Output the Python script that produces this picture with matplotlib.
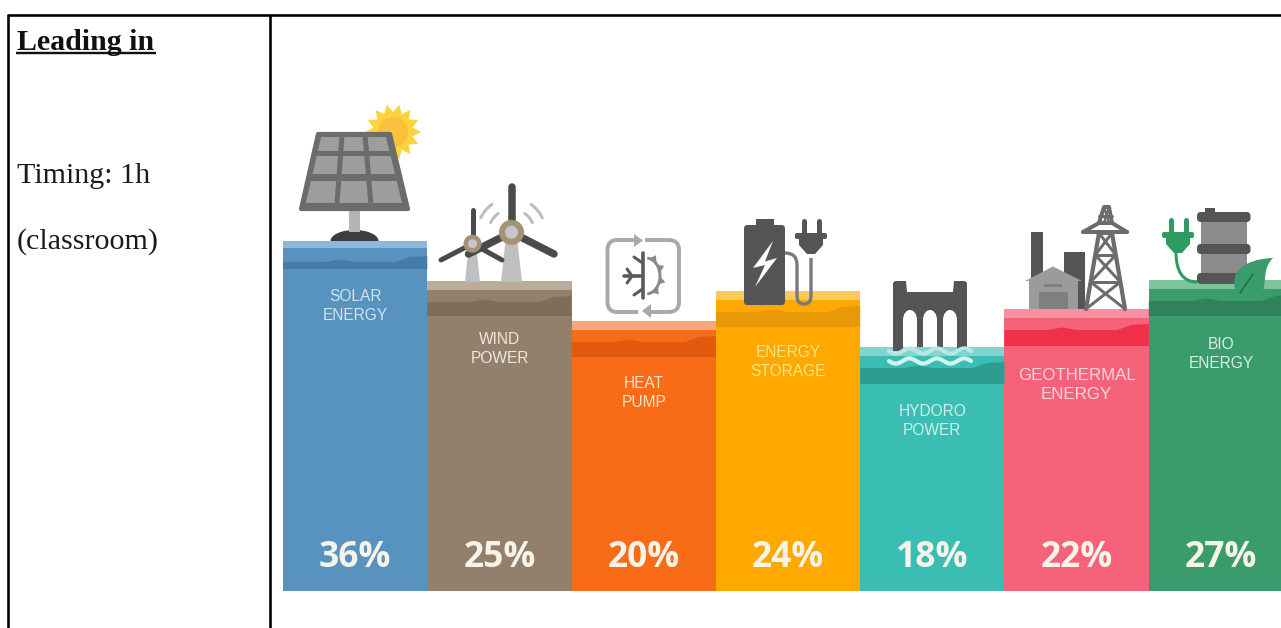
import numpy as np
import matplotlib
matplotlib.use('Agg')
import matplotlib.pyplot as plt
from matplotlib.patches import Rectangle, Polygon, Circle, Ellipse, FancyBboxPatch, PathPatch
from matplotlib.path import Path

# data
categories = ['SOLAR\nENERGY', 'WIND\nPOWER', 'HEAT\nPUMP', 'ENERGY\nSTORAGE',
              'HYDORO\nPOWER', 'GEOTHERMAL\nENERGY', 'BIO\nENERGY']
percent = [36, 25, 20, 24, 18, 22, 27]

# column height is not proportional to the percentage, so the y axis runs on a hand-set monotone scale
scale_values = [0, 18, 20, 22, 24, 25, 27, 36]
scale_heights = [0, 244, 270, 282, 300, 310, 311, 350]

# colours per column: body, top strip, strata band, label
body_colors = ['#5892BF', '#93806C', '#F96C17', '#FEA800', '#3ABDB3', '#F5627A', '#3A9B6C']
strip_colors = ['#8FB6DB', '#BBAB9A', '#F7A77A', '#FCC85A', '#80D6CF', '#F98FA0', '#7CC49C']
band_colors = ['#437CA8', '#7F6D5A', '#E15A10', '#E79A05', '#2F9C94', '#F0304A', '#2F8259']
label_colors = ['#CFE4EF', '#EDE8DF', '#FBE3C8', '#FCE680', '#CFF0EC', '#FAD7DC', '#D9EEE0']
label_sizes = [11.2, 11.2, 11.2, 11.2, 11.2, 12.2, 11.2]
label_drop = [65, 68, 72, 71, 74, 76, 74]
band_top = [21, 21, 21, 21, 21, 21, 21]
band_bottom = [28, 35, 36, 36, 37, 37, 36]
strip_depth = [7, 9, 9, 9, 9, 9, 9]

DARK = '#555555'
GREY = '#9B9B9B'
LIGHT = '#BEBFBF'

fig = plt.figure(figsize=(12.81, 6.28), dpi=100)
fig.patch.set_facecolor('white')


def fwd(v):
    return np.interp(v, scale_values, scale_heights)


def inv(h):
    return np.interp(h, scale_heights, scale_values)


# columns
bar_ax = fig.add_axes([283 / 1281, (628 - 591) / 628, 7 * 144.3 / 1281, 350 / 628])
x = np.arange(len(percent))
bars = bar_ax.bar(x, percent, width=1.0, color=body_colors, linewidth=0)
bar_ax.set_yscale('function', functions=(fwd, inv))
bar_ax.set_xlim(-0.5, len(percent) - 0.5)
bar_ax.set_ylim(0, 36)
bar_ax.axis('off')

# overlay in pixel units, y pointing down
px = fig.add_axes([0, 0, 1, 1], facecolor='none')
px.set_xlim(0, 1281)
px.set_ylim(628, 0)
px.axis('off')


def top_of(v):
    return 628 - bar_ax.transData.transform((0, v))[1]


def x_of(v):
    return bar_ax.transData.transform((v, 0))[0]


def line(xs, ys, color=DARK, w=3.0, cap='round', z=5):
    px.plot(xs, ys, color=color, lw=w * 0.72, solid_capstyle=cap, solid_joinstyle='round', zorder=z)


def poly(pts, color, z=5, edge=0):
    px.add_patch(Polygon(pts, closed=True, fc=color, ec=color if edge else 'none', lw=edge,
                         joinstyle='round', zorder=z))


def rect(x0, y0, x1, y1, color, z=5):
    px.add_patch(Rectangle((x0, y0), x1 - x0, y1 - y0, fc=color, ec='none', zorder=z))


# strata on top of each column
wave_x = [0, .3, .4, .5, .78, .88, 1]
wave_up = [0, 0, 2.5, 0, 0, 5, 6]
for i, b in enumerate(bars):
    top = top_of(percent[i])
    left, right = x_of(b.get_x()), x_of(b.get_x() + 1)
    rect(left, top, right, top + strip_depth[i], strip_colors[i], z=2)
    edge_x = [left + f * (right - left) for f in wave_x]
    edge_y = [top + band_top[i] - u for u in wave_up]
    poly(list(zip(edge_x, edge_y)) + [(right, top + band_bottom[i]), (left, top + band_bottom[i])],
         band_colors[i], z=2)
    px.text((left + right) / 2, top + label_drop[i], categories[i], color=label_colors[i],
            family='Liberation Sans', fontsize=label_sizes[i], ha='center', va='center',
            linespacing=1.3, zorder=6)
    px.text((left + right) / 2, 558, f'{percent[i]}%', color='#F6F3E8', family='Open Sans',
            fontweight='bold', fontsize=25.5, ha='center', va='center', zorder=6)


def solar():
    # sun behind the panel
    ang = np.linspace(0, 2 * np.pi, 29)[:-1]
    rad = np.where(np.arange(28) % 2 == 0, 28, 20)
    poly(np.c_[393 + rad * np.cos(ang), 132 + rad * np.sin(ang)], '#FBD43C', z=3)
    px.add_patch(Circle((393, 132), 15, fc='#FBBF3E', ec='none', zorder=3))
    # stand
    rect(349, 208, 360, 232, '#B5B5B5', z=4)
    t = np.linspace(0, np.pi, 40)
    poly(np.c_[354.5 + 24 * np.cos(t), 241 - 11 * np.sin(t)], '#3D3D3D', z=3)
    # panel
    poly([(318, 134), (390, 134), (408, 209), (301, 209)], '#6C6C6C', edge=3)
    rows = [(137, 151), (156, 174), (181, 203)]
    for y0, y1 in rows:
        for c in range(3):
            f0 = (y0 - 133) / 78
            f1 = (y1 - 133) / 78
            l0, r0 = 318 - 18 * f0, 390 + 19 * f0
            l1, r1 = 318 - 18 * f1, 390 + 19 * f1
            a0, b0 = l0 + 4 + c * (r0 - l0 - 4) / 3, l0 + 4 + (c + 1) * (r0 - l0 - 4) / 3 - 5
            a1, b1 = l1 + 4 + c * (r1 - l1 - 4) / 3, l1 + 4 + (c + 1) * (r1 - l1 - 4) / 3 - 5
            poly([(a0, y0), (b0, y0), (b1, y1), (a1, y1)], '#9D9D9D', z=6)


def turbine(hx, hy, base, tips, w_top, w_bot, ring, inner, blade):
    poly([(hx - w_top, hy), (hx + w_top, hy), (hx + w_bot, base), (hx - w_bot, base)], LIGHT, z=3)
    for tx, ty in tips:
        line([hx, tx], [hy, ty], color='#4A4A4A', w=blade, z=4)
    px.add_patch(Circle((hx, hy), ring, fc='#A59276', ec='none', zorder=5))
    px.add_patch(Circle((hx, hy), inner, fc='#C7C3CF', ec='none', zorder=5))


def wind():
    dy = top_of(25) - 278
    turbine(472.5, 240.7 + dy, 279 + dy, [(472.5, 207 + dy), (502, 257 + dy), (441, 257 + dy)],
            3.5, 7.5, 9, 4.5, 5)
    turbine(511.5, 229.3 + dy, 279 + dy, [(511.5, 184 + dy), (554, 251 + dy), (468.5, 251 + dy)],
            5, 10.5, 12.5, 6.5, 7.5)
    # small motion arcs beside the big rotor
    for r in (23, 34):
        for a0, a1 in ((125, 155), (25, 55)):
            t = np.radians(np.linspace(a0, a1, 20))
            line(511.5 + r * np.cos(t), 229.3 + dy - r * np.sin(t), color='#BDBDBD', w=3)


def heat_pump():
    c = '#A9A9A9'
    verts = [(637, 240), (617, 240), (607.5, 240), (607.5, 250), (607.5, 302), (607.5, 312), (617, 312), (638, 312)]
    codes = [Path.MOVETO, Path.LINETO, Path.CURVE3, Path.CURVE3, Path.LINETO, Path.CURVE3, Path.CURVE3, Path.LINETO]
    px.add_patch(PathPatch(Path(verts, codes), fc='none', ec=c, lw=2.8, zorder=5))
    verts = [(645, 240), (669, 240), (679, 240), (679, 250), (679, 302), (679, 312), (669, 312), (650, 312)]
    px.add_patch(PathPatch(Path(verts, codes), fc='none', ec=c, lw=2.8, zorder=5))
    poly([(634, 234), (643, 240.5), (634, 247)], c)
    poly([(651, 304), (642, 311), (651, 318)], c)
    # half snowflake
    s = '#5A5A5A'
    line([642.5, 642.5], [253, 298], color=s, w=3.6)
    line([623.5, 642.5], [276, 276], color=s, w=3.6)
    line([627, 632], [269, 276], color=s, w=3)
    line([627, 632], [283, 276], color=s, w=3)
    line([634, 642.5], [257, 263], color=s, w=3)
    line([634, 642.5], [295, 289], color=s, w=3)
    # half sun
    t = np.radians(np.linspace(-80, 80, 30))
    line(646 + 14 * np.cos(t), 276 + 18 * np.sin(t), color='#8A8A8A', w=3)
    for a in (-60, -25, 15, 50):
        r = np.radians(a)
        tx, ty = 646 + 20 * np.cos(r), 276 + 24 * np.sin(r)
        bx, by = 646 + 14 * np.cos(r), 276 + 18 * np.sin(r)
        nx, ny = -np.sin(r) * 4, np.cos(r) * 4
        poly([(tx, ty), (bx + nx, by + ny), (bx - nx, by - ny)], '#8A8A8A')


def plug(x0, color, y0):
    # two pins, a crossbar and a tapered body
    for p in (x0 + 4.5, x0 + 19.5):
        line([p, p], [y0 + 2, y0 + 15], color=color, w=5)
    px.add_patch(FancyBboxPatch((x0 - 4, y0 + 14), 32, 6, boxstyle='round,pad=0,rounding_size=2',
                                fc=color, ec='none', zorder=5))
    poly([(x0, y0 + 19), (x0 + 24, y0 + 19), (x0 + 24, y0 + 26), (x0 + 16, y0 + 35), (x0 + 8, y0 + 35),
          (x0, y0 + 26)], color)


def storage():
    px.add_patch(FancyBboxPatch((744, 225), 41, 80, boxstyle='round,pad=0,rounding_size=3.5',
                                fc=DARK, ec='none', zorder=5))
    rect(756, 219, 774, 226, DARK)
    poly([(773, 241), (753, 268), (765, 265), (755, 287), (777, 258), (765, 261.5)], 'white', z=6)
    verts = [(785, 253), (797, 253), (797, 265), (797, 296), (797, 304), (804, 304), (811, 304), (811, 296), (811, 258)]
    codes = [Path.MOVETO, Path.CURVE3, Path.CURVE3, Path.LINETO, Path.CURVE3, Path.CURVE3, Path.CURVE3, Path.CURVE3, Path.LINETO]
    px.add_patch(PathPatch(Path(verts, codes), fc='none', ec='#7A7A7A', lw=2.4, zorder=4))
    plug(799, DARK, 219)


def hydro():
    poly([(893, 283), (895, 281), (906, 281), (907, 292), (953, 292), (954, 281), (965, 281), (967, 283),
          (967, 351), (893, 351)], DARK)
    for cx in (910, 930, 950):
        rect(cx - 7, 320, cx + 7, 347, 'white', z=5.2)
        px.add_patch(Ellipse((cx, 320), 14, 20, fc='white', ec='none', zorder=5.2))
    rect(903, 347, 957, 352, strip_colors[4], z=5.2)
    for y0, c in ((351, '#B5E8E4'), (361, '#D2F3F0')):
        wx = np.linspace(889, 971, 60)
        line(wx, y0 + 2.6 * np.sin((wx - 889) / 82 * 2 * np.pi * 3), color=c, w=4.2, z=6)


def geothermal():
    rect(1031, 232, 1043, 278, DARK, z=4)
    rect(1064, 252, 1085, 309, DARK, z=4)
    poly([(1025, 281), (1053, 266.5), (1082, 281)], GREY)
    rect(1029, 280, 1078, 309, GREY)
    rect(1039, 292, 1068, 309, '#7F7F7F', z=6)
    rect(1044, 284, 1062, 287, '#7F7F7F', z=6)
    c = '#6C6C6C'
    L, R = 1086, 1125
    legs = [(L, 309), (1099, 233)], [(R, 309), (1112, 233)]
    for (a, b) in legs:
        line([a[0], b[0]], [a[1], b[1]], color=c, w=4.2)
    # lattice of the pylon
    def edge(y):
        f = (309 - y) / (309 - 233)
        return L + (1099 - L) * f, R + (1112 - R) * f
    levels = [309, 282, 255, 233]
    for y0, y1 in zip(levels[:-1], levels[1:]):
        a0, b0 = edge(y0)
        a1, b1 = edge(y1)
        line([a0, b1], [y0, y1], color=c, w=3)
        line([b0, a1], [y0, y1], color=c, w=3)
        line([a1, b1], [y1, y1], color=c, w=3)
    # cross arms and peak
    line([1083, 1099, 1112, 1127], [232, 223, 223, 232], color=c, w=4)
    line([1083, 1127], [232, 232], color=c, w=4)
    line([1099, 1104, 1109, 1112], [223, 207, 207, 223], color=c, w=4)
    line([1099, 1112], [216, 216], color=c, w=3)
    line([1104, 1109], [207, 223], color=c, w=2.4)
    line([1109, 1104], [207, 223], color=c, w=2.4)


def bio():
    dy = top_of(27) - 283
    g = '#2F9B62'
    rect(1201, 217 + dy, 1247, 284 + dy, '#8C8C8C', z=3)
    rect(1205, 211 + dy, 1215, 216 + dy, DARK, z=3)
    for y0, y1 in ((215, 225), (247, 257), (276, 287)):
        px.add_patch(FancyBboxPatch((1197, y0 + dy), 53.5, y1 - y0, boxstyle='round,pad=0,rounding_size=4',
                                    fc=DARK, ec='none', zorder=4))
    verts = [(1176, 255 + dy), (1176, 285 + dy), (1197, 285 + dy)]
    px.add_patch(PathPatch(Path(verts, [Path.MOVETO, Path.CURVE3, Path.CURVE3]), fc='none', ec=g, lw=2.2, zorder=4))
    plug(1166, g, 221 + dy)
    verts = [(1238, 298 + dy), (1226, 277 + dy), (1243, 262 + dy), (1273, 261 + dy),
             (1262, 272 + dy), (1267, 285 + dy), (1262, 296 + dy), (1238, 298 + dy)]
    codes = [Path.MOVETO, Path.CURVE4, Path.CURVE4, Path.CURVE4, Path.CURVE4, Path.CURVE4, Path.CURVE4, Path.LINETO]
    px.add_patch(PathPatch(Path(verts, codes), fc='#3A9B6C', ec='none', zorder=5))
    line([1240, 1253], [296 + dy, 277 + dy], color='#1F6E47', w=1.6, z=6)


solar()
wind()
heat_pump()
storage()
hydro()
geothermal()
bio()

# table rules
line([8, 1281], [15, 15], color='black', w=2.6, cap='butt', z=8)
line([8, 8], [14, 628], color='black', w=2.6, cap='butt', z=8)
line([270, 270], [15, 628], color='black', w=2.6, cap='butt', z=8)

# left cell text
px.text(17, 50, 'Leading in', family='Liberation Serif', fontweight='bold', fontsize=21.5, va='baseline', color='#111111')
line([16, 156], [53, 53], color='#111111', w=2.4, cap='butt')
px.text(17, 183, 'Timing: 1h', family='Liberation Serif', fontsize=21.6, va='baseline', color='#1A1A1A')
px.text(17, 249, '(classroom)', family='Liberation Serif', fontsize=21.6, va='baseline', color='#1A1A1A')

fig.savefig('out.png', dpi=100)
